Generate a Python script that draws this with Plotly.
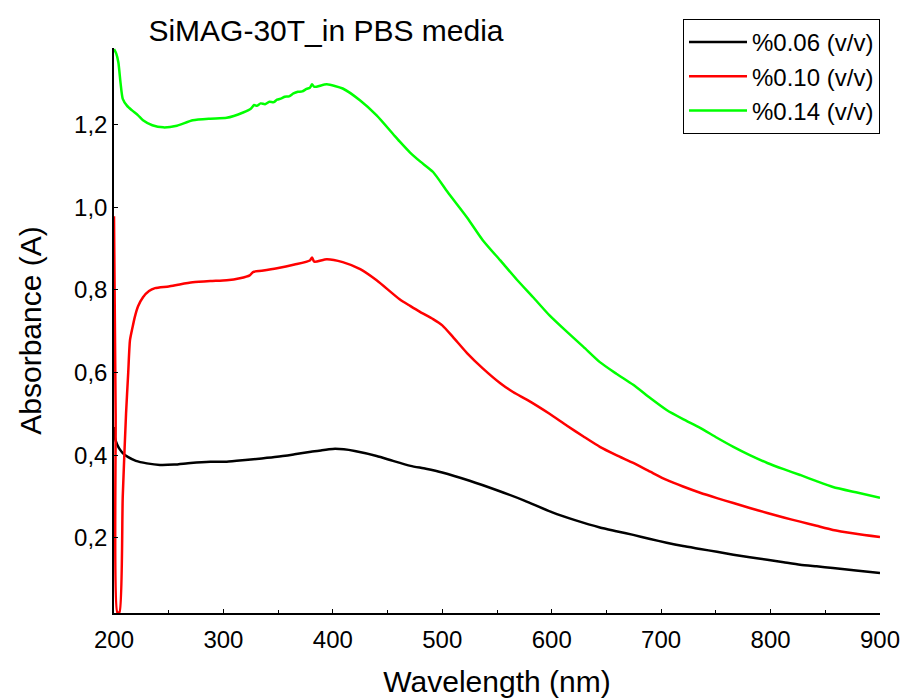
import plotly.graph_objects as go

# UV-Vis absorbance spectra of SiMAG-30T in PBS at three concentrations

wl_006 = [200, 201, 203, 205, 208, 213, 220, 230, 242, 255, 270, 288, 303, 320, 335,
          349, 365, 380, 390, 400, 410, 420, 440, 455, 471, 485, 500, 525, 550, 575,
          600, 622, 644, 659, 674.5, 690, 705, 720, 735.6, 751, 766, 781, 797, 812,
          827, 842, 857, 878, 900]
abs_006 = [0.468, 0.44, 0.425, 0.415, 0.405, 0.395, 0.386, 0.38, 0.376, 0.377, 0.381,
           0.384, 0.384, 0.388, 0.392, 0.396, 0.402, 0.408, 0.412, 0.415, 0.414, 0.41,
           0.398, 0.386, 0.374, 0.367, 0.358, 0.338, 0.315, 0.29, 0.262, 0.242, 0.225,
           0.216, 0.207, 0.197, 0.188, 0.18, 0.173, 0.166, 0.159, 0.153, 0.147, 0.141,
           0.135, 0.131, 0.127, 0.121, 0.115]

wl_010 = [200, 201.5, 203, 205, 208, 211, 213, 214.6, 217, 219, 222, 226.5, 232, 237.5,
          250, 260, 272, 288, 303, 315, 324, 327, 335, 349, 365, 379, 381, 383, 394.5,
          409, 425, 440, 461, 470.6, 480, 491.6, 500, 510, 522.6, 537, 553, 565, 578,
          598, 614, 629, 644, 659, 674.5, 690, 705, 720, 735.6, 751, 766, 781, 797, 812,
          827, 842, 857, 878, 900]
abs_010 = [0.978, 0.5, 0.02, 0.02, 0.30, 0.50, 0.60, 0.678, 0.71, 0.734, 0.76, 0.782,
           0.797, 0.804, 0.808, 0.813, 0.818, 0.821, 0.823, 0.828, 0.835, 0.843, 0.846,
           0.852, 0.861, 0.871, 0.878, 0.868, 0.874, 0.867, 0.85, 0.823, 0.777, 0.761,
           0.746, 0.729, 0.714, 0.685, 0.647, 0.61, 0.574, 0.552, 0.533, 0.50, 0.471,
           0.445, 0.42, 0.40, 0.381, 0.36, 0.340, 0.324, 0.309, 0.296, 0.284, 0.272,
           0.26, 0.249, 0.239, 0.229, 0.219, 0.21, 0.202]

wl_014 = [200, 202, 204, 206, 208, 212, 216.5, 222, 226.5, 235, 245, 257.5, 272, 288,
          303, 318, 325, 328, 330.5, 334, 338, 342, 346, 349, 353, 356, 360, 364, 368,
          372, 376, 379, 381, 383, 394.5, 409, 425, 440, 455, 461, 470.6, 480, 491.6,
          505, 522.6, 537, 553, 568, 583, 598, 614, 629, 644, 659, 674.5, 690, 705,
          720, 735.6, 751, 766, 781, 797, 812, 827, 842, 857, 878, 900]
abs_014 = [1.382, 1.372, 1.35, 1.30, 1.262, 1.245, 1.234, 1.222, 1.21, 1.198, 1.193,
           1.197, 1.21, 1.214, 1.216, 1.229, 1.238, 1.247, 1.245, 1.251, 1.249, 1.255,
           1.254, 1.26, 1.263, 1.267, 1.268, 1.275, 1.279, 1.28, 1.286, 1.289, 1.297,
           1.291, 1.297, 1.287, 1.258, 1.222, 1.177, 1.159, 1.132, 1.11, 1.085, 1.036,
           0.975, 0.92, 0.871, 0.825, 0.782, 0.738, 0.698, 0.662, 0.625, 0.597, 0.570,
           0.538, 0.509, 0.487, 0.466, 0.442, 0.42, 0.40, 0.381, 0.366, 0.352, 0.337,
           0.323, 0.31, 0.297]

series = [
    ("%0.06 (v/v)", wl_006, abs_006, "#000000"),
    ("%0.10 (v/v)", wl_010, abs_010, "#ff0000"),
    ("%0.14 (v/v)", wl_014, abs_014, "#00ff00"),
]

x_ticks = [200, 300, 400, 500, 600, 700, 800, 900]
y_ticks = [0.2, 0.4, 0.6, 0.8, 1.0, 1.2]

FONT = "Liberation Sans, Arial, sans-serif"

fig = go.Figure()
for name, x, y, color in series:
    fig.add_trace(go.Scatter(x=x, y=y, mode="lines", name=name,
                             line=dict(color=color, width=2.5, shape="spline",
                                       smoothing=0.6)))

fig.update_layout(
    width=902, height=698,
    margin=dict(l=114, r=22, t=48, b=85),
    paper_bgcolor="white", plot_bgcolor="white",
    separators=",.",
    font=dict(family=FONT, size=24, color="black"),
    title=dict(text="SiMAG-30T_in PBS media", x=326 / 902, xanchor="center",
               y=1 - 30 / 698, yanchor="middle", automargin=False,
               font=dict(family=FONT, size=30, color="black")),
    legend=dict(x=1.0, y=1.0513, xanchor="right", yanchor="top",
                bgcolor="white", bordercolor="black", borderwidth=1,
                font=dict(family=FONT, size=24, color="black"),
                itemwidth=58, tracegroupgap=0),
    showlegend=True,
)

fig.update_xaxes(
    range=[200, 900], tickvals=x_ticks, ticks="inside", ticklen=4, tickcolor="black",
    showline=True, linecolor="black", linewidth=1.5, mirror=False,
    showgrid=False, zeroline=False, automargin=False,
    minor=dict(dtick=50, ticks="inside", ticklen=3, tickcolor="black"),
    tickfont=dict(family=FONT, size=24), ticklabelstandoff=4,
    title=dict(text="Wavelength (nm)", standoff=22, font=dict(family=FONT, size=30)),
)
fig.update_yaxes(
    range=[0.018, 1.385], tickvals=y_ticks, tickformat=".1f",
    ticks="inside", ticklen=4, tickcolor="black",
    showline=True, linecolor="black", linewidth=1.5, mirror=False,
    showgrid=False, zeroline=False, automargin=False,
    tickfont=dict(family=FONT, size=24),
    title=dict(text="Absorbance (A)", standoff=24, font=dict(family=FONT, size=30)),
)

fig.write_html("out.html")
